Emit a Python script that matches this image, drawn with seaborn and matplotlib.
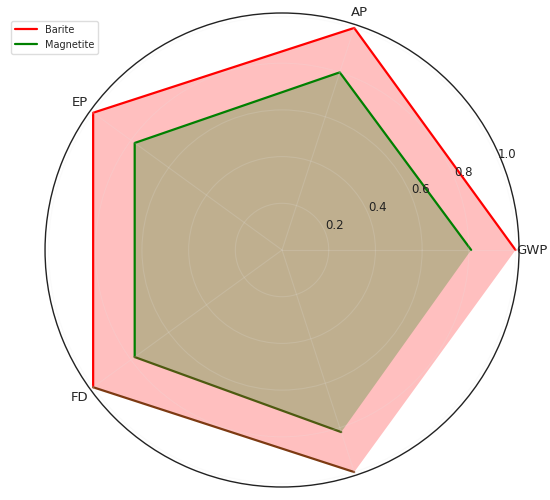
import numpy as np
import seaborn as sns
import matplotlib
matplotlib.use("Agg")
import matplotlib.pyplot as plt

categories = ["GWP", "AP", "EP", "FD", ""]
barite = [1.0, 1.0, 1.0, 1.0, 1.0]
magnetite = [0.81, 0.80, 0.78, 0.78, 0.82]
r_ticks = [0.2, 0.4, 0.6, 0.8, 1.0]


def radar_plot():
    sns.set_style("white")
    plt.rcParams["font.family"] = ["DejaVu Sans"]
    fig = plt.figure(figsize=(5.5, 5), dpi=100)
    ax = fig.add_axes([0.0818, 0.026, 0.862, 0.948], projection="polar")

    n = len(categories)
    angles = np.linspace(0, 2 * np.pi, n, endpoint=False)
    closed = np.append(angles, angles[0])

    b = np.append(barite, barite[0])
    m = np.append(magnetite, magnetite[0])

    ax.fill(closed, b, color="red", alpha=0.25, linewidth=0)
    ax.fill(closed, m, color="green", alpha=0.25, linewidth=0)

    # upper part of each outline in full colour, lower edge darker
    ax.plot(closed[:4], b[:4], color="red", linewidth=1.6, label="Barite")
    ax.plot(closed[3:5], b[3:5], color="#7d3a12", linewidth=1.6)
    ax.plot(closed[:4], m[:4], color="green", linewidth=1.6, label="Magnetite")
    ax.plot(closed[3:5], m[3:5], color="#4d5a10", linewidth=1.6)

    ax.set_ylim(0, 1.015)
    ax.set_xticks(angles)
    ax.set_xticklabels(categories, fontsize=9.5)
    ax.tick_params(axis="x", pad=-1)
    ax.set_yticks(r_ticks)
    ax.set_yticklabels([f"{t:.1f}" for t in r_ticks], fontsize=8.5, color="#222222")
    ax.set_rlabel_position(22.5)
    ax.set_axisbelow(False)
    ax.grid(color="#e6e6e6", alpha=0.18, linewidth=0.8)
    ax.spines["polar"].set_color("#222222")
    ax.spines["polar"].set_linewidth(1.0)

    fig.legend(loc="upper left", bbox_to_anchor=(0.012, 0.968), fontsize=7,
               frameon=True, framealpha=1, edgecolor="#dddddd", handlelength=2.2)
    fig.savefig("out.png", dpi=100)


if __name__ == "__main__":
    radar_plot()
